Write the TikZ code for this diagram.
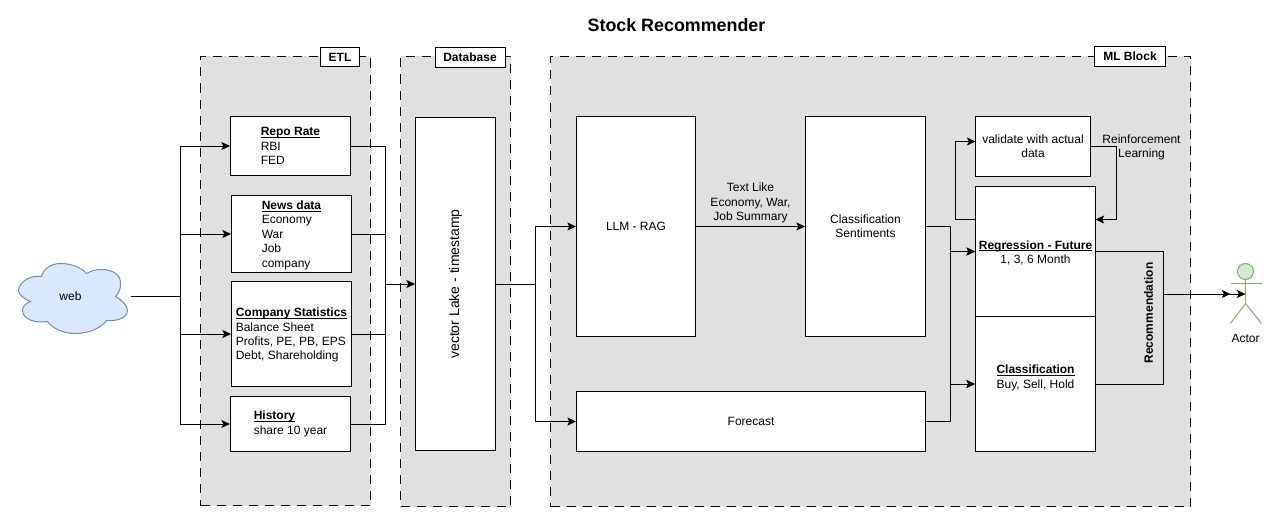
\documentclass[tikz,border=0pt]{standalone}
\usepackage{fontspec}
\setmainfont{Liberation Sans}
\usetikzlibrary{arrows.meta, positioning, calc}
\definecolor{panelgray}{HTML}{E0E0E0}
\definecolor{cloudblue}{HTML}{DAE8FC}
\definecolor{cloudline}{HTML}{6C8EBF}
\definecolor{actorgreen}{HTML}{D5E8D4}
\definecolor{actorline}{HTML}{82B366}

\newcommand{\boxhead}[1]{\setbox0\hbox{\textbf{#1}}\rlap{\vrule width\wd0 height -0.9pt depth 1.6pt}\box0}
\newcommand{\headstrut}{\vrule width 0pt height 8.4pt}

\tikzset{
  sized/.style 2 args={minimum width=#1*0.75pt, minimum height=#2*0.75pt},
  panel/.style={draw=black, fill=panelgray, dash pattern=on 6.75pt off 5.25pt, line width=0.75pt, inner sep=0pt},
  tag/.style={draw=black, fill=white, line width=0.75pt, inner sep=0pt, font=\fontsize{9}{10.8}\selectfont\bfseries},
  box/.style={draw=black, fill=white, line width=0.75pt, inner sep=0pt, align=left, font=\fontsize{9}{10.8}\selectfont},
  plain/.style={inner sep=0pt, align=center, font=\fontsize{9}{10.8}\selectfont},
  flow/.style={line width=0.75pt, draw=black},
}

\begin{document}
\begin{tikzpicture}[x=0.75pt, y=-0.75pt, >={Stealth[length=6.5pt, width=6pt, inset=1.5pt]}]
\useasboundingbox (-0.5,-0.5) rectangle (1270.5,516.5);

% Title
\node[plain, font=\fontsize{13.4}{15}\selectfont\bfseries] (title) at (676,25) {Stock Recommender};

% Panels
\node[panel, sized={170}{449}] (etlpanel) at (285,280.5) {};
\node[panel, sized={110}{450}] (dbpanel) at (455,281) {};
\node[panel, sized={640}{450}] (mlpanel) at (870,281) {};
\node[tag, sized={39}{19}] (etltag) at (339.5,56.5) {ETL};
\node[tag, sized={70}{20}] (dbtag) at (469.5,57) {Database};
\node[tag, sized={71}{20}] (mltag) at (1129.5,56) {ML Block};

% Source
\draw[cloudline, fill=cloudblue, line width=0.75pt]
  (41,276) .. controls (43,268) and (51,263) .. (60,263) .. controls (71,263) and (81,267) .. (86,273)
  .. controls (91,270) and (96,269) .. (101,269) .. controls (113,269) and (121,275) .. (120,284)
  .. controls (120,289) and (118,293) .. (115,296) .. controls (122,300) and (127,305) .. (127,310)
  .. controls (127,317) and (117,321) .. (106,320) .. controls (100,328) and (88,333) .. (75,333)
  .. controls (63,333) and (52,328) .. (47,321) .. controls (33,323) and (22,318) .. (22,310)
  .. controls (22,306) and (25,303) .. (30,301) .. controls (23,298) and (18,294) .. (18,290)
  .. controls (18,282) and (30,274) .. (41,276) -- cycle;
\node[plain, sized={109}{70}] (web) at (70,296) {web};

% ETL boxes
\node[box, sized={120}{59}] (repobox) at (290,145.5) {\boxhead{Repo Rate}\\RBI\\FED};
\node[box, sized={120}{77}] (newsbox) at (291,233.5) {\headstrut\boxhead{News data}\\Economy\\War\\Job\\company};
\node[box, sized={120}{105}] (companybox) at (291,333.5) {\headstrut\boxhead{Company Statistics}\\Balance Sheet\\Profits, PE, PB, EPS\\Debt, Shareholding};
\node[box, sized={120}{55}] (historybox) at (290,423.5) {\boxhead{History}\\share 10 year};

% Database
\node[box, sized={80}{333}] (lakebox) at (455,283.5) {};
\node[plain, rotate=90, font=\fontsize{10.5}{12}\selectfont] (laketext) at (455,283.5) {vector Lake - timestamp};

% ML boxes
\node[box, sized={119}{220}] (llmbox) at (635.5,226) {LLM - RAG};
\node[box, sized={349}{60}] (forecastbox) at (750.5,421) {Forecast};
\node[box, align=center, sized={120}{220}] (sentimentbox) at (865,226) {Classification\\Sentiments};
\node[box, align=center, sized={115}{60}] (validatebox) at (1032.5,146) {validate with actual\\data};
\node[box, align=center, sized={120}{130}] (regressionbox) at (1035,251) {\headstrut\boxhead{Regression - Future}\\1, 3, 6 Month};
\node[box, align=center, sized={120}{135}] (classbox) at (1035,383.5) {\boxhead{Classification}\\Buy, Sell, Hold\\~};

% Free labels
\node[plain] (textlabel) at (750,202.5) {Text Like\\Economy, War,\\Job Summary};
\node[plain] (rllabel) at (1141,147) {Reinforcement\\Learning};
\node[plain, rotate=90, font=\fontsize{9}{10.8}\selectfont\bfseries] (reclabel) at (1148,312.5) {Recommendation};

% Actor
\node[circle, draw=actorline, fill=actorgreen, line width=0.75pt, inner sep=0pt, minimum size=16*0.75pt] (actorhead) at (1245,271) {};
\coordinate (actorhip) at (1245,303);
\draw[actorline, line width=0.75pt] (actorhead.south) -- (actorhip);
\draw[actorline, line width=0.75pt] (1230,283) -- (1261,283);
\draw[actorline, line width=0.75pt] (1230,323) -- (actorhip) -- (1261,323);
\node[plain] (actorlabel) at (1245,337.5) {Actor};

% Junctions
\coordinate (websplit) at (180,296);
\coordinate (etljoin) at (385,283.5);
\coordinate (lakesplit) at (535,283.5);
\coordinate (mljoin) at (950,300);
\coordinate (regout) at (975,219);
\coordinate (regin) at (1095,219);
\coordinate (valin) at (975,141);
\coordinate (recjoin) at (1163,293.5);
\coordinate (actorarm) at (1230,293.5);
\coordinate (actorbody) at (1245,293.5);

% ETL connectors
\draw[flow, shorten <=4pt] (web.east) -- (websplit);
\foreach \src in {repobox, newsbox, companybox, historybox} {
  \draw[flow, ->] (websplit) |- (\src.west);
  \draw[flow] (\src.east) -| (etljoin);
}
\draw[flow, ->] (etljoin) -- (lakebox.west);

% Database to ML
\draw[flow] (lakebox.east) -- (lakesplit);
\foreach \dst in {llmbox, forecastbox} {
  \draw[flow, ->] (lakesplit) |- (\dst.west);
}
\draw[flow, ->] (llmbox.east) -- (sentimentbox.west);

% Into regression and classification
\foreach \src in {sentimentbox, forecastbox} {
  \foreach \dst in {regressionbox, classbox} {
    \draw[flow, ->] (\src.east) -| (mljoin) |- (\dst.west);
  }
}

% Feedback loop
\draw[flow, ->] (regout) -- ++(-20,0) |- (valin);
\draw[flow, ->] (validatebox.east) -- ++(25,0) |- (regin);

% Recommendation
\draw[flow] (regressionbox.east) -| (recjoin);
\draw[flow] (classbox.east) -| (recjoin);
\draw[flow, ->] (recjoin) -- (actorarm);
\draw[flow, ->] (recjoin) -- (actorbody);

\end{tikzpicture}
\end{document}
